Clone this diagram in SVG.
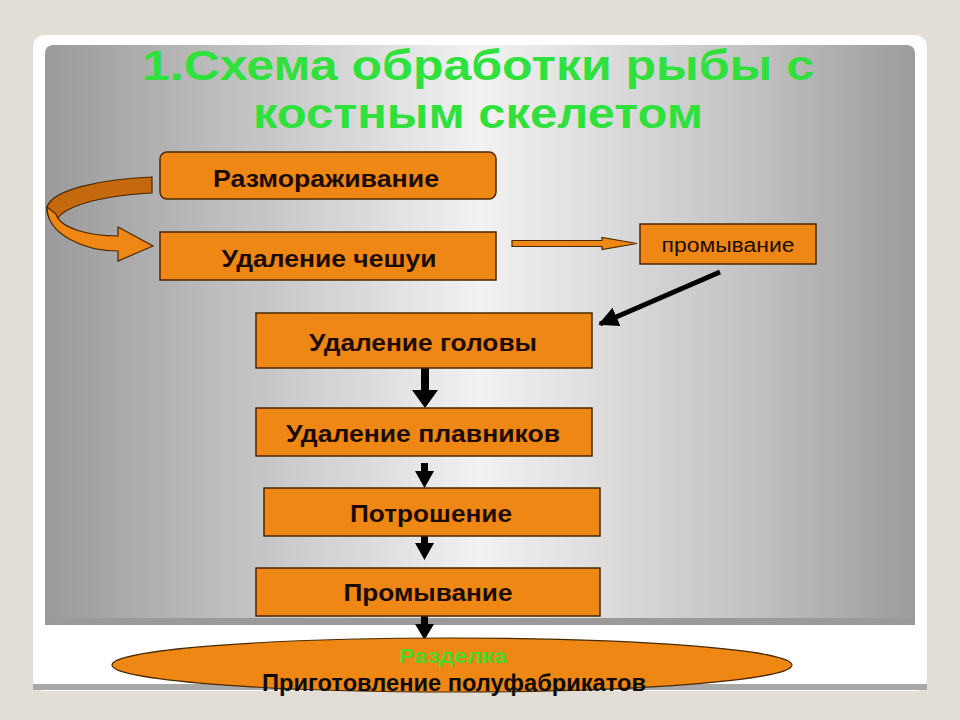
<svg xmlns="http://www.w3.org/2000/svg" width="960" height="720" viewBox="0 0 960 720">
<defs>
<linearGradient id="panel" x1="0" y1="0" x2="1" y2="0">
<stop offset="0" stop-color="#9a9a9a"/>
<stop offset="0.2" stop-color="#bdbdbd"/>
<stop offset="0.5" stop-color="#f2f2f2"/>
<stop offset="0.8" stop-color="#c4c4c4"/>
<stop offset="1" stop-color="#9c9c9c"/>
</linearGradient>
<marker id="blk" viewBox="0 0 10 10" refX="9" refY="5" markerWidth="4" markerHeight="4" orient="auto" markerUnits="strokeWidth">
<path d="M0,0 L10,5 L0,10 Z" fill="#000"/>
</marker>
<style>
.box{fill:#ef8714;stroke:#4a2800;stroke-width:1.5}
.lbl{font-family:"Liberation Sans",Arial,sans-serif;font-weight:bold;font-size:24px;fill:#1c0c00;text-anchor:middle}
.title{font-family:"Liberation Sans Narrow","Liberation Sans",Arial,sans-serif;font-weight:bold;font-size:42px;fill:#30e03c;text-anchor:middle}
.narrow{font-family:"Liberation Sans",Arial,sans-serif;font-weight:bold;text-anchor:middle}
.va{fill:#000}
</style>
</defs>
<rect width="960" height="720" fill="#e3ded5"/>
<rect x="33" y="35" width="894" height="656" rx="12" fill="#ffffff"/>
<rect x="33" y="684" width="894" height="6" fill="#a8a8a8"/>
<rect x="45" y="45" width="870" height="580" rx="8" fill="url(#panel)"/>
<rect x="45" y="618" width="870" height="7" fill="#9a9a9a"/>

<g id="title">
<text class="title" x="478" y="80" textLength="672" lengthAdjust="spacingAndGlyphs">1.Схема  обработки рыбы с</text>
<text class="title" x="478" y="128" textLength="450" lengthAdjust="spacingAndGlyphs">костным скелетом</text>
</g>

<g id="connectors">
<path d="M152,177 C100,179 52,190 47,207 C46,214 50,220 56,224 C56,212 82,197 152,193 Z" fill="#c4690e" stroke="#4a2800" stroke-width="1.2"/>
<path d="M47,207 C47,235 85,251 118,251 L118,261 L153,246 L118,227 L118,236 C88,236 60,228 56,214 Z" fill="#ef8714" stroke="#4a2800" stroke-width="1.2"/>
<path d="M512,240.5 L602,240.5 L602,237.5 L637,243.5 L602,249.5 L602,246.5 L512,246.5 Z" fill="#ef8714" stroke="#4a2800" stroke-width="1.2"/>
<line x1="720" y1="272" x2="600" y2="324" stroke="#000" stroke-width="5" marker-end="url(#blk)"/>
<path class="va" d="M421,368 L429,368 L429,390 L438,390 L425,408 L412,390 L421,390 Z"/>
<path class="va" d="M421,463 L428,463 L428,471 L434,471 L424.5,488 L415,471 L421,471 Z"/>
<path class="va" d="M421,536 L428,536 L428,543 L434,543 L424.5,560 L415,543 L421,543 Z"/>
<path class="va" d="M421,616 L428,616 L428,624 L434,624 L424.5,640 L415,624 L421,624 Z"/>
</g>

<g id="n1">
<rect class="box" x="160" y="152" width="336" height="47" rx="7"/>
<text class="lbl" x="326" y="187" textLength="226" lengthAdjust="spacingAndGlyphs">Размораживание</text>
</g>
<g id="n2">
<rect class="box" x="160" y="232" width="336" height="48"/>
<text class="lbl" x="329" y="267" textLength="215" lengthAdjust="spacingAndGlyphs">Удаление чешуи</text>
</g>
<g id="n3">
<rect class="box" x="640" y="224" width="176" height="40"/>
<text x="728" y="252" font-family="Liberation Sans,Arial,sans-serif" font-size="20" fill="#1c0c00" text-anchor="middle" textLength="133" lengthAdjust="spacingAndGlyphs">промывание</text>
</g>
<g id="n4">
<rect class="box" x="256" y="313" width="336" height="55"/>
<text class="lbl" x="423" y="351" textLength="228" lengthAdjust="spacingAndGlyphs">Удаление головы</text>
</g>
<g id="n5">
<rect class="box" x="256" y="408" width="336" height="48"/>
<text class="lbl" x="423" y="442" textLength="274" lengthAdjust="spacingAndGlyphs">Удаление плавников</text>
</g>
<g id="n6">
<rect class="box" x="264" y="488" width="336" height="48"/>
<text class="lbl" x="431" y="522" textLength="162" lengthAdjust="spacingAndGlyphs">Потрошение</text>
</g>
<g id="n7">
<rect class="box" x="256" y="568" width="344" height="48"/>
<text class="lbl" x="428" y="601" textLength="169" lengthAdjust="spacingAndGlyphs">Промывание</text>
</g>
<g id="n8">
<ellipse cx="452" cy="665" rx="340" ry="27" fill="#ef8714" stroke="#4a2800" stroke-width="1.2"/>
<text class="narrow" x="453" y="663" font-size="20" fill="#4cd82a" textLength="108" lengthAdjust="spacingAndGlyphs">Разделка</text>
<text class="narrow" x="454" y="691" font-size="23" fill="#0c0c0c" textLength="384" lengthAdjust="spacingAndGlyphs">Приготовление полуфабрикатов</text>
</g>
</svg>
